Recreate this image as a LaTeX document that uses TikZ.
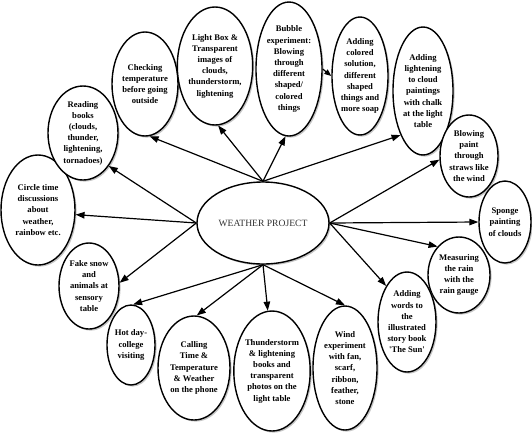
\documentclass[tikz,border=0pt]{standalone}
\usepackage{fontspec}
\setmainfont{Liberation Serif}
\usetikzlibrary{shadows,arrows.meta,shapes.geometric}
\begin{document}
\begin{tikzpicture}[x=1pt,y=-1pt,
  sat/.style={ellipse,draw=black,line width=1.4pt,fill=white,inner sep=0pt,align=center,
    font=\bfseries\fontsize{8.6}{11.2}\selectfont,
    drop shadow={shadow xshift=1.6pt,shadow yshift=-1.6pt,fill=black!45}},
  hub/.style={ellipse,draw=black,line width=1.4pt,fill=white,inner sep=0pt,align=center,
    font=\fontsize{9.6}{11}\selectfont,text=black!80,
    drop shadow={shadow xshift=1.6pt,shadow yshift=-1.6pt,fill=black!45}},
  arr/.style={draw=black,line width=1.2pt,-{Triangle[length=9pt,width=6.5pt]}},
  arrsmall/.style={draw=black,line width=1.2pt,-{Triangle[length=7pt,width=5.5pt]}}]
\useasboundingbox (0,0) rectangle (532,432);

\node[hub,minimum width=132pt,minimum height=82pt] (c) at (263,223) {WEATHER PROJECT};

\node[sat,minimum width=66pt,minimum height=104pt] (chk) at (145,84) {Checking\\temperature\\before going\\outside};
\node[sat,minimum width=74pt,minimum height=118pt] (lbox) at (215,66) {Light Box \&\\Transparent\\images of\\clouds,\\thunderstorm,\\lightening};
\node[sat,minimum width=66pt,minimum height=134pt] (bub) at (289,69) {Bubble\\experiment:\\Blowing\\through\\different\\shaped/\\colored\\things};
\node[sat,minimum width=56pt,minimum height=118pt] (col) at (360,76) {Adding\\colored\\solution,\\different\\shaped\\things and\\more soap};
\node[sat,minimum width=60pt,minimum height=128pt] (lig) at (423,91) {Adding\\lightening\\to cloud\\paintings\\with chalk\\at the light\\table};
\node[sat,minimum width=58pt,minimum height=82pt] (blw) at (469,156) {Blowing\\paint\\through\\straws like\\the wind};
\node[sat,minimum width=52pt,minimum height=82pt] (spg) at (505,222) {Sponge\\painting\\of clouds};
\node[sat,minimum width=62pt,minimum height=76pt] (mea) at (459,275) {Measuring\\the rain\\with the\\rain gauge};
\node[sat,minimum width=58pt,minimum height=100pt] (wrd) at (407,322) {Adding\\words to\\the\\illustrated\\story book\\\textquotesingle The Sun\textquotesingle};
\node[sat,minimum width=64pt,minimum height=124pt] (wnd) at (345,368) {Wind\\experiment\\with fan,\\scarf,\\ribbon,\\feather,\\stone};
\node[sat,minimum width=72pt,minimum height=120pt] (thu) at (272,371) {Thunderstorm\\\& lightening\\books and\\transparent\\photos on the\\light table};
\node[sat,minimum width=72pt,minimum height=104pt] (cal) at (194,368) {Calling\\Time \&\\Temperature\\\& Weather\\on the phone};
\node[sat,minimum width=48pt,minimum height=80pt] (hot) at (131,345) {Hot day-\\college\\visiting};
\node[sat,minimum width=60pt,minimum height=86pt] (snw) at (89,286) {Fake snow\\and\\animals at\\sensory\\table};
\node[sat,minimum width=74pt,minimum height=110pt] (cir) at (38,210) {Circle time\\discussions\\about\\weather,\\rainbow etc.};
\node[sat,minimum width=70pt,minimum height=94pt] (rdb) at (83,133) {Reading\\books\\(clouds,\\thunder,\\lightening,\\tornadoes)};

\draw[arr] (c.north) -- (chk.-85);
\draw[arr] (c.north) -- (lbox.-87);
\draw[arr] (c.north) -- (bub.-93);
\draw[arr] (c.north) -- (lig.-117);
\draw[arr] (c.west) -- (rdb.-52);
\draw[arr] (c.west) -- (cir.-7);
\draw[arr] (c.west) -- (snw.6);
\draw[arr] (c.south) -- (hot.87);
\draw[arr] (c.south) -- (cal.87);
\draw[arr] (c.south) -- (thu.94);
\draw[arr] (c.south) -- (wnd.90);
\draw[arr] (c.east) -- (blw.-173);
\draw[arr] (c.east) -- (spg.180);
\draw[arr] (c.east) -- (mea.127);
\draw[arr] (c.east) -- (wrd.120);
\draw[arrsmall] (bub.east) -- (col.west);
\end{tikzpicture}
\end{document}
